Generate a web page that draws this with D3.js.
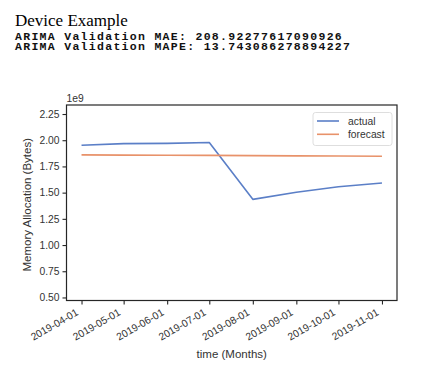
<!DOCTYPE html>
<html>
<head>
<meta charset="utf-8">
<script src="https://cdn.jsdelivr.net/npm/d3@7"></script>
<style>
  body { margin: 0; background: #fff; }
</style>
</head>
<body>
<div id="chart"></div>
<script>
// values in units of 1e9 bytes
const months = ["2019-04-01", "2019-05-01", "2019-06-01", "2019-07-01",
                "2019-08-01", "2019-09-01", "2019-10-01", "2019-11-01"];
const actual = [1.952, 1.968, 1.970, 1.978, 1.436, 1.503, 1.556, 1.592];
const forecast = [1.860, 1.858, 1.856, 1.855, 1.853, 1.851, 1.849, 1.847];
const yTicks = [0.50, 0.75, 1.00, 1.25, 1.50, 1.75, 2.00, 2.25];
const seriesNames = ["actual", "forecast"];

const W = 431, H = 372;
const plot = { left: 66.5, right: 397, top: 105, bottom: 300.5 };

const svg = d3.select("#chart")
  .append("svg")
  .attr("width", W)
  .attr("height", H)
  .attr("viewBox", [0, 0, W, H]);

// header text
svg.append("text")
  .attr("x", 15)
  .attr("y", 26)
  .attr("font-family", "Liberation Serif, Times New Roman, serif")
  .attr("font-size", 17)
  .attr("fill", "#000")
  .text("Device Example");

const mono = ["ARIMA Validation MAE: 208.92277617090926",
              "ARIMA Validation MAPE: 13.743086278894227"];
mono.forEach((t, i) => {
  svg.append("text")
    .attr("x", 15)
    .attr("y", 39.5 + i * 10.4)
    .attr("font-family", "Liberation Mono, Courier New, monospace")
    .attr("font-weight", "bold")
    .attr("font-size", 11.5)
    .attr("letter-spacing", 1.3)
    .attr("fill", "#111")
    .text(t);
});

// scales
const parse = d3.utcParse("%Y-%m-%d");
const dates = months.map(parse);
const t0 = +dates[0], t1 = +dates[dates.length - 1];
const pad = (t1 - t0) * 0.05;

const x = d3.scaleUtc()
  .domain([new Date(t0 - pad), new Date(t1 + pad)])
  .range([plot.left, plot.right]);

const y = d3.scaleLinear()
  .domain([0.471, 2.336])
  .range([plot.bottom, plot.top]);

const color = d3.scaleOrdinal()
  .domain(seriesNames)
  .range(["#5b7fc7", "#e8926a"]);

const axisColor = "#262626";
const labelColor = "#333";
const sans = "Arial, Liberation Sans, sans-serif";

// lines
const line = d3.line()
  .x((d, i) => x(dates[i]))
  .y(d => y(d));

[actual, forecast].forEach((vals, k) => {
  svg.append("path")
    .datum(vals)
    .attr("fill", "none")
    .attr("stroke", color(seriesNames[k]))
    .attr("stroke-width", 1.6)
    .attr("stroke-linejoin", "round")
    .attr("d", line);
});

// axes
const xAxis = svg.append("g")
  .attr("transform", `translate(0,${plot.bottom})`)
  .call(d3.axisBottom(x)
    .tickValues(dates)
    .tickFormat(d3.utcFormat("%Y-%m-%d"))
    .tickSize(4)
    .tickPadding(3));
xAxis.select(".domain").remove();
xAxis.selectAll("line").attr("stroke", axisColor).attr("stroke-width", 1.1);
xAxis.selectAll("text")
  .attr("font-family", sans)
  .attr("font-size", 10.3)
  .attr("fill", labelColor)
  .attr("text-anchor", "end")
  .attr("dy", null)
  .attr("y", 0)
  .attr("transform", "translate(-3,14) rotate(-30)");

const yAxis = svg.append("g")
  .attr("transform", `translate(${plot.left},0)`)
  .call(d3.axisLeft(y)
    .tickValues(yTicks)
    .tickFormat(d3.format(".2f"))
    .tickSize(4)
    .tickPadding(3));
yAxis.select(".domain").remove();
yAxis.selectAll("line").attr("stroke", axisColor).attr("stroke-width", 1.1);
yAxis.selectAll("text")
  .attr("font-family", sans)
  .attr("font-size", 10.3)
  .attr("fill", labelColor);

// frame
svg.append("rect")
  .attr("x", plot.left)
  .attr("y", plot.top)
  .attr("width", plot.right - plot.left)
  .attr("height", plot.bottom - plot.top)
  .attr("fill", "none")
  .attr("stroke", axisColor)
  .attr("stroke-width", 1.2);

// offset text
svg.append("text")
  .attr("x", plot.left)
  .attr("y", plot.top - 3)
  .attr("font-family", sans)
  .attr("font-size", 10.3)
  .attr("fill", labelColor)
  .text("1e9");

// axis labels
svg.append("text")
  .attr("x", (plot.left + plot.right) / 2)
  .attr("y", 358)
  .attr("text-anchor", "middle")
  .attr("font-family", sans)
  .attr("font-size", 11.5)
  .attr("fill", labelColor)
  .text("time (Months)");

svg.append("text")
  .attr("transform", `translate(31,${(plot.top + plot.bottom) / 2 + 2}) rotate(-90)`)
  .attr("text-anchor", "middle")
  .attr("font-family", sans)
  .attr("font-size", 11.5)
  .attr("fill", labelColor)
  .text("Memory Allocation (Bytes)");

// legend
const legend = svg.append("g")
  .attr("transform", "translate(313,112.5)");

legend.append("rect")
  .attr("width", 79)
  .attr("height", 33)
  .attr("rx", 2.5)
  .attr("fill", "#fff")
  .attr("fill-opacity", 0.8)
  .attr("stroke", "#d6d6d6")
  .attr("stroke-width", 0.8);

seriesNames.forEach((name, i) => {
  const row = legend.append("g")
    .attr("transform", `translate(0,${8.5 + i * 13.3})`);
  row.append("line")
    .attr("x1", 4).attr("x2", 26)
    .attr("stroke", color(name))
    .attr("stroke-width", 1.6);
  row.append("text")
    .attr("x", 35)
    .attr("y", 3.6)
    .attr("font-family", sans)
    .attr("font-size", 10.3)
    .attr("fill", labelColor)
    .text(name);
});
</script>
</body>
</html>
